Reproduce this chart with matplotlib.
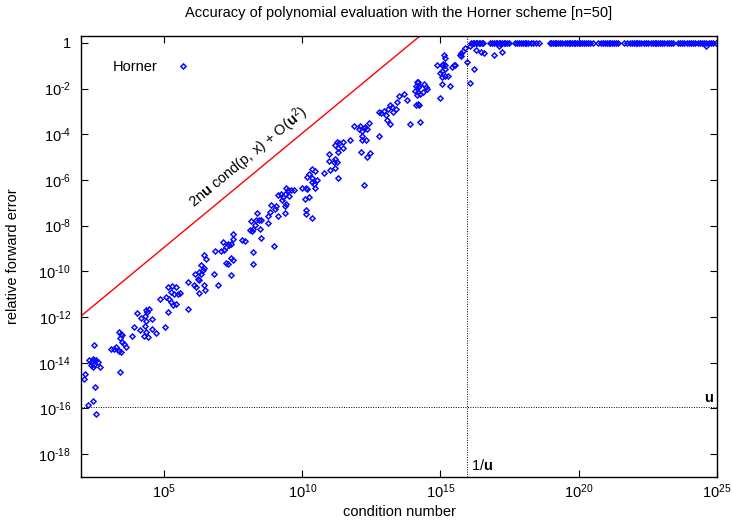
import matplotlib
matplotlib.use("Agg")
import matplotlib.pyplot as plt
import numpy as np

plt.rcParams['font.family'] = ['Liberation Sans', 'DejaVu Sans']
plt.rcParams['mathtext.fontset'] = 'custom'
plt.rcParams['mathtext.rm'] = 'Liberation Sans'
plt.rcParams['mathtext.it'] = 'Liberation Sans:italic'
plt.rcParams['mathtext.bf'] = 'Liberation Sans:bold'
plt.rcParams['mathtext.default'] = 'regular'

N_DEG = 50
U = 2.0 ** -53          # unit roundoff

# log10(condition number), log10(relative forward error) of the Horner runs
cond_exp = [
    2.48, 2.30, 2.36, 2.42, 2.48, 2.54, 2.36, 2.42, 2.48, 2.60, 2.70, 2.14, 2.12,
    2.49, 2.42, 2.26, 2.54,
    3.08, 3.20, 3.26, 3.32, 3.38, 3.44, 3.38, 3.44, 3.50, 3.41, 3.50, 3.56, 3.64, 3.41,
    3.92, 3.86, 4.04, 4.16, 4.34, 4.46, 4.40, 4.30, 4.34, 4.30, 4.13, 4.34, 4.28,
    4.42, 4.57, 4.55, 4.73, 5.03,
    4.84, 5.09, 5.14, 5.30, 5.42, 5.24, 5.38, 5.50, 5.57, 5.18, 5.26, 5.31, 5.43,
    5.15, 5.88, 5.86,
    6.14, 6.34, 6.40, 6.46, 6.28, 6.34, 6.22, 6.28, 6.10, 6.16, 6.46, 6.50, 6.26,
    6.82, 6.95, 7.41, 6.46, 6.52, 6.86,
    7.06, 7.12, 7.18, 7.24, 7.30, 7.36, 7.42, 7.48, 7.51, 7.26, 7.33, 7.42, 7.48,
    7.84, 7.93, 8.22, 8.22,
    8.14, 8.11, 8.17, 8.22, 8.29, 8.32, 8.38, 8.44, 8.50, 8.46, 8.50,
    8.76, 8.77, 8.82, 8.87, 9.01, 9.04, 9.13, 8.99,
    9.13, 9.22, 9.30, 9.37, 9.42, 9.49, 9.52, 9.28, 9.40, 9.37, 9.37, 9.58, 9.70,
    10.00, 10.14, 10.09, 10.12, 10.14, 10.18, 10.26, 10.34,
    10.18, 10.26, 10.36, 10.46, 10.36, 10.34, 10.42, 10.48, 10.54, 10.78,
    11.02, 10.98, 10.96, 11.14, 11.17, 11.20, 11.26, 11.17, 11.26, 11.32, 11.29,
    11.29, 11.46, 11.46, 11.29,
    11.74, 11.86, 12.04, 12.10, 12.16, 12.22, 12.28, 12.34, 12.40, 12.18, 12.18,
    12.30, 12.13, 12.34, 12.46, 12.25, 12.76,
    12.76, 12.85, 12.94, 13.02, 13.06, 13.18, 13.12, 13.18, 13.24, 13.30, 13.38,
    13.42, 13.50, 13.69, 13.78,
    13.91, 14.26, 14.14, 14.20, 14.10, 14.17, 14.22, 14.08, 14.20, 14.14, 14.26,
    14.10, 14.17, 14.22, 14.42, 14.46, 14.53, 14.38, 14.98, 15.06, 15.36,
    14.86, 15.04, 15.10, 15.16, 14.98, 15.06, 15.16, 15.04, 15.18, 15.28, 15.13,
    15.18, 15.40, 15.49, 15.54, 15.70, 15.76, 15.82, 15.73, 15.90,
    15.96, 16.06, 16.30, 16.21, 16.08, 16.48, 16.57, 16.95, 17.21, 17.13, 24.60,
]
err_exp = [
    -13.24, -13.89, -13.97, -13.82, -13.89, -13.89, -14.11, -14.18, -14.11, -13.97,
    -14.18, -14.51, -14.72, -15.07, -15.66, -15.83, -16.25,
    -13.38, -13.38, -13.31, -13.46, -13.49, -13.53, -12.65, -12.73, -12.80, -12.90,
    -13.09, -13.19, -13.31, -14.40,
    -12.44, -12.81, -11.82, -12.03, -11.68, -11.63, -11.78, -11.94, -12.17, -12.39,
    -12.55, -12.65, -12.81, -12.87, -12.51, -12.09, -12.70, -12.44,
    -11.21, -11.12, -10.69, -10.66, -10.69, -10.90, -10.98, -10.98, -10.95, -11.20,
    -11.34, -11.46, -11.42, -11.78, -11.65, -10.47,
    -10.10, -9.73, -9.92, -9.84, -10.03, -10.10, -10.32, -10.39, -10.61, -10.68,
    -10.61, -10.80, -10.94, -10.13, -10.61, -10.16, -9.30, -9.44, -9.11,
    -9.11, -8.71, -9.08, -8.93, -8.82, -8.86, -8.82, -8.57, -8.35, -9.63, -9.66,
    -9.40, -9.49, -8.61, -8.69, -9.17, -9.69,
    -7.80, -8.17, -8.23, -8.13, -7.99, -7.77, -7.45, -7.74, -7.77, -8.13, -8.52,
    -7.59, -7.87, -7.40, -7.11, -7.26, -7.15, -7.59, -8.90,
    -6.67, -6.63, -6.75, -6.63, -6.34, -6.45, -6.72, -6.89, -7.07, -7.15, -7.45,
    -6.43, -6.43,
    -6.34, -6.34, -6.82, -7.30, -7.50, -6.39, -6.73, -7.66,
    -5.85, -5.73, -5.52, -5.59, -5.91, -6.10, -6.17, -6.35, -6.00, -5.70,
    -5.56, -5.15, -4.86, -5.22, -5.47, -5.08, -5.22, -4.45, -4.35, -4.39, -4.60,
    -4.79, -4.35, -4.60, -5.91,
    -4.25, -3.62, -3.77, -3.62, -3.84, -3.72, -3.66, -3.77, -3.52, -4.06, -4.25,
    -4.25, -4.79, -5.01, -4.83, -6.22, -4.06,
    -3.04, -3.08, -2.99, -3.14, -3.37, -3.55, -2.89, -2.70, -2.82, -3.04, -2.89,
    -2.60, -2.31, -2.24, -2.50,
    -3.56, -3.47, -1.72, -1.72, -1.87, -1.94, -1.87, -2.09, -2.13, -2.30, -2.23,
    -2.71, -2.67, -2.71, -1.79, -1.94, -2.01, -2.16, -2.41, -1.82, -1.90,
    -0.96, -0.96, -0.92, -0.99, -1.31, -1.21, -1.14, -1.50, -1.46, -1.43, -0.53,
    -0.67, -1.06, -0.96, -0.99, -0.55, -0.44, -0.34, -0.58, -0.23,
    -0.85, -0.12, -0.29, -1.14, -1.75, -0.41, -0.44, -0.55, -0.38, -0.12, -0.12,
]

# runs that saturate at a relative error of 1
sat_cond_exp = [
    16.10, 16.16, 16.22, 16.27, 16.33, 16.38, 16.44, 16.50, 16.55,
    16.80, 16.86, 16.93, 16.99, 17.05, 17.10, 17.16, 17.22, 17.28, 17.34, 17.40, 17.46,
    17.70, 17.77, 17.84, 17.90, 17.97, 18.04, 18.11, 18.18, 18.26, 18.34, 18.44, 18.55,
    18.95, 19.01, 19.07, 19.13, 19.19, 19.25, 19.32, 19.40, 19.50, 19.58, 19.64,
    19.70, 19.76, 19.82, 19.88, 19.94, 20.00, 20.06, 20.12, 20.18, 20.25, 20.32,
    20.40, 20.50,
    20.70, 20.80, 20.88, 20.95, 21.02, 21.08, 21.14, 21.20, 21.27, 21.34, 21.42,
    21.65, 21.76, 21.86, 21.93, 22.00, 22.06, 22.12, 22.18, 22.26, 22.36, 22.44,
    22.52, 22.60, 22.67, 22.74, 22.80, 22.87, 22.94, 23.02, 23.10, 23.18, 23.26,
    23.34, 23.42,
    23.60, 23.68, 23.75, 23.82, 23.90, 23.98, 24.06, 24.14, 24.22, 24.30, 24.38,
    24.46, 24.54, 24.62, 24.70, 24.78, 24.86, 24.95,
]
SAT_ERR = 1.0

x_ticks = [1e5, 1e10, 1e15, 1e20, 1e25]
x_ticklabels = [r'$10^{5}$', r'$10^{10}$', r'$10^{15}$', r'$10^{20}$', r'$10^{25}$']
y_ticks = [1, 1e-2, 1e-4, 1e-6, 1e-8, 1e-10, 1e-12, 1e-14, 1e-16, 1e-18]
y_ticklabels = ['1', r'$10^{\text{-}2}$', r'$10^{\text{-}4}$', r'$10^{\text{-}6}$',
                r'$10^{\text{-}8}$', r'$10^{\text{-}10}$', r'$10^{\text{-}12}$',
                r'$10^{\text{-}14}$', r'$10^{\text{-}16}$', r'$10^{\text{-}18}$']

cond = np.power(10.0, cond_exp)
err = np.power(10.0, err_exp)
sat_cond = np.power(10.0, sat_cond_exp)

fig = plt.figure(figsize=(7.32, 5.2), dpi=100)
ax = fig.add_axes([81 / 732, 1 - 477 / 520, 636 / 732, 441 / 520])

blue = '#0a0aff'
ax.plot(cond, err, linestyle='none', marker='D', markersize=2.6, mfc='none',
        mec=blue, mew=1.1, label='Horner')
ax.plot(sat_cond, [SAT_ERR] * len(sat_cond), linestyle='none', marker='D',
        markersize=2.6, mfc='none', mec=blue, mew=1.1)

# a priori bound 2nu cond
bound_cond = np.array([1e2, 1e15])
ax.plot(bound_cond, 2 * N_DEG * U * bound_cond, color='#ff0000', lw=1.0)

ax.axhline(U, color='k', ls=(0, (1, 1.5)), lw=0.7)
ax.axvline(1 / U, color='k', ls=(0, (1, 1.5)), lw=0.7)

ax.set_xscale('log')
ax.set_yscale('log')
ax.set_xlim(1e2, 1e25)
ax.set_ylim(1e-19, 2)
ax.set_xticks(x_ticks)
ax.set_xticklabels(x_ticklabels)
ax.set_yticks(y_ticks)
ax.set_yticklabels(y_ticklabels)
ax.minorticks_off()
ax.tick_params(direction='in', length=5, width=0.8, top=True, right=True,
               labelsize=10.5)
ax.tick_params(axis='x', pad=4)
ax.tick_params(axis='y', pad=7)
for s in ax.spines.values():
    s.set_linewidth(1.0)

ax.set_title('Accuracy of polynomial evaluation with the Horner scheme [n=50]',
             fontsize=10.5, pad=14)
ax.set_xlabel('condition number', fontsize=10.5, labelpad=3)
ax.set_ylabel('relative forward error', fontsize=10.5, labelpad=13)

ax.text(10 ** 8.05, 10 ** -5.02, r'2n$\mathbf{u}$ cond(p, x) + O($\mathbf{u}^2$)',
        rotation=39.6, ha='center', va='center', rotation_mode='anchor', fontsize=10.5)
ax.annotate(r'$\mathbf{u}$', xy=(1, U), xycoords=('axes fraction', 'data'),
            xytext=(-2, 2), textcoords='offset points', ha='right', va='bottom',
            fontsize=10.5)
ax.annotate(r'1/$\mathbf{u}$', xy=(1 / U, 0), xycoords=('data', 'axes fraction'),
            xytext=(3, 3), textcoords='offset points', ha='left', va='bottom',
            fontsize=10.5)

ax.legend(loc='upper left', bbox_to_anchor=(0.03, 0.975), frameon=False,
          markerfirst=False, numpoints=1, handlelength=1.0, handletextpad=1.2,
          fontsize=10.5)

fig.savefig('out.png', dpi=100)
